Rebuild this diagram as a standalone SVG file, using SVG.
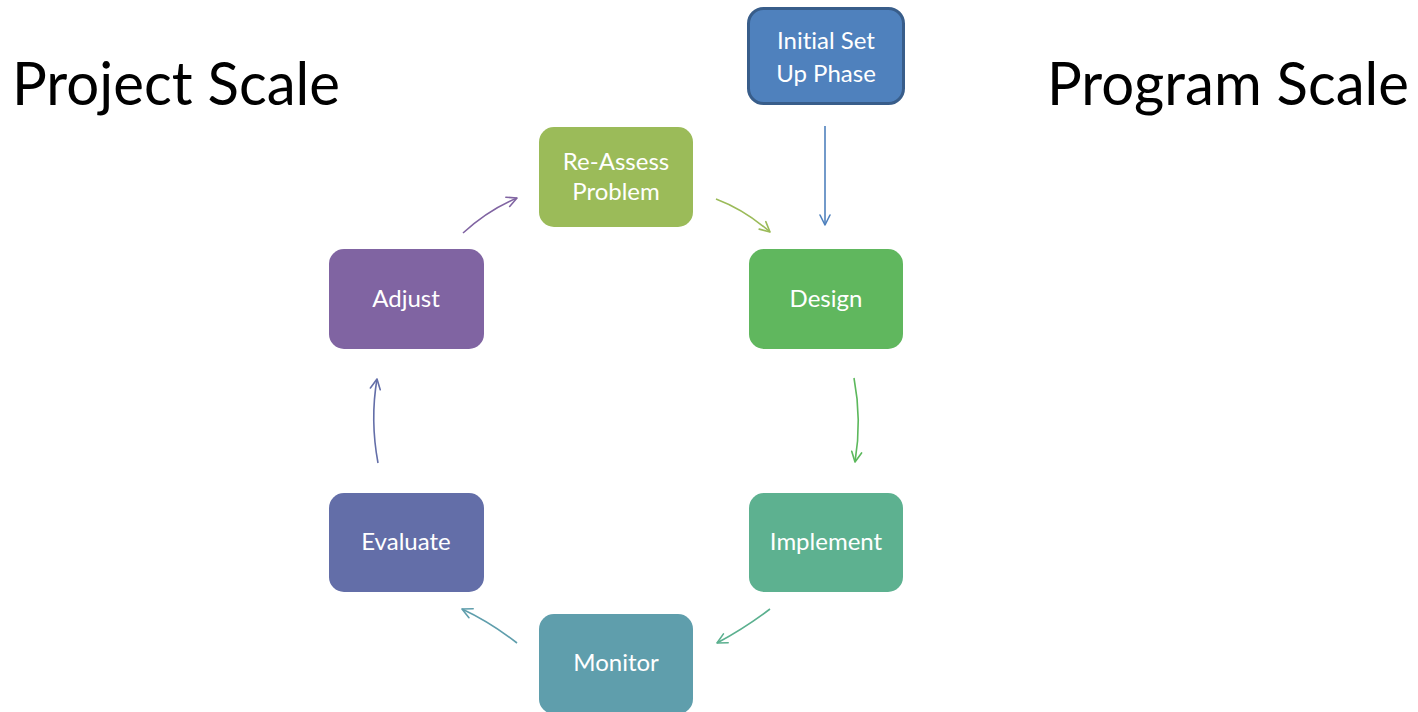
<svg xmlns="http://www.w3.org/2000/svg" width="1418" height="712" viewBox="0 0 1418 712">
<style>
.title{font-family:Lato,"Open Sans","Liberation Sans",sans-serif;font-size:60px;fill:#000}
.lbl{font-family:Lato,"Open Sans","Liberation Sans",sans-serif;font-size:24px;fill:#fff;text-anchor:middle;font-variant-ligatures:none}
.con{fill:none;stroke-width:1.6}
.mk{fill:none;stroke-width:1.6;stroke-linecap:round;stroke-linejoin:round}
</style>
<defs>
<marker id="mBlue" viewBox="0 0 12 12" refX="11" refY="6" markerWidth="12" markerHeight="12" markerUnits="userSpaceOnUse" orient="auto" overflow="visible"><path class="mk" stroke="#4f81bd" d="M1,1 L11,6 L1,11"/></marker>
<marker id="mLime" viewBox="0 0 12 12" refX="11" refY="6" markerWidth="12" markerHeight="12" markerUnits="userSpaceOnUse" orient="auto" overflow="visible"><path class="mk" stroke="#9bbb59" d="M1,1 L11,6 L1,11"/></marker>
<marker id="mGreen" viewBox="0 0 12 12" refX="11" refY="6" markerWidth="12" markerHeight="12" markerUnits="userSpaceOnUse" orient="auto" overflow="visible"><path class="mk" stroke="#5cb85c" d="M1,1 L11,6 L1,11"/></marker>
<marker id="mSea" viewBox="0 0 12 12" refX="11" refY="6" markerWidth="12" markerHeight="12" markerUnits="userSpaceOnUse" orient="auto" overflow="visible"><path class="mk" stroke="#5bb08f" d="M1,1 L11,6 L1,11"/></marker>
<marker id="mTeal" viewBox="0 0 12 12" refX="11" refY="6" markerWidth="12" markerHeight="12" markerUnits="userSpaceOnUse" orient="auto" overflow="visible"><path class="mk" stroke="#5f9eac" d="M1,1 L11,6 L1,11"/></marker>
<marker id="mInd" viewBox="0 0 12 12" refX="11" refY="6" markerWidth="12" markerHeight="12" markerUnits="userSpaceOnUse" orient="auto" overflow="visible"><path class="mk" stroke="#636ea8" d="M1,1 L11,6 L1,11"/></marker>
<marker id="mPur" viewBox="0 0 12 12" refX="11" refY="6" markerWidth="12" markerHeight="12" markerUnits="userSpaceOnUse" orient="auto" overflow="visible"><path class="mk" stroke="#8064a2" d="M1,1 L11,6 L1,11"/></marker>
</defs>
<rect width="1418" height="712" fill="#fff"/>
<text class="title" x="12" y="105" textLength="328" lengthAdjust="spacingAndGlyphs">Project Scale</text>
<text class="title" x="1047" y="105" textLength="362" lengthAdjust="spacingAndGlyphs">Program Scale</text>
<g id="connectors">
<path class="con" stroke="#4f81bd" d="M825,126 L825,225" marker-end="url(#mBlue)"/>
<path class="con" stroke="#9bbb59" d="M716,199 Q745,210 770,232" marker-end="url(#mLime)"/>
<path class="con" stroke="#5cb85c" d="M854,378 Q862,420 855,462" marker-end="url(#mGreen)"/>
<path class="con" stroke="#5bb08f" d="M770,609 Q745,628 717,643" marker-end="url(#mSea)"/>
<path class="con" stroke="#5f9eac" d="M517,643 Q490,622 462,609" marker-end="url(#mTeal)"/>
<path class="con" stroke="#636ea8" d="M378,463 Q370,420 377,379" marker-end="url(#mInd)"/>
<path class="con" stroke="#8064a2" d="M463,233 Q488,210 517,198" marker-end="url(#mPur)"/>
</g>
<g id="node-initial">
<rect x="748.5" y="8.5" width="155" height="95" rx="15" fill="#4f81bd" stroke="#385d8a" stroke-width="3"/>
<text class="lbl" x="826" y="49">Initial Set</text>
<text class="lbl" x="826" y="82">Up Phase</text>
</g>
<g id="node-reassess">
<rect x="539" y="127" width="154" height="100" rx="15" fill="#9bbb59"/>
<text class="lbl" x="616" y="170">Re-Assess</text>
<text class="lbl" x="616" y="200">Problem</text>
</g>
<g id="node-design">
<rect x="749" y="249" width="154" height="100" rx="15" fill="#60b75e"/>
<text class="lbl" x="826" y="307">Design</text>
</g>
<g id="node-implement">
<rect x="749" y="493" width="154" height="99" rx="15" fill="#5db190"/>
<text class="lbl" x="826" y="550">Implement</text>
</g>
<g id="node-monitor">
<rect x="539" y="614" width="154" height="100" rx="15" fill="#5f9eac"/>
<text class="lbl" x="616" y="671">Monitor</text>
</g>
<g id="node-evaluate">
<rect x="329" y="493" width="155" height="99" rx="15" fill="#636ea8"/>
<text class="lbl" x="406" y="550">Evaluate</text>
</g>
<g id="node-adjust">
<rect x="329" y="249" width="155" height="100" rx="15" fill="#8064a2"/>
<text class="lbl" x="406" y="307">Adjust</text>
</g>
</svg>
